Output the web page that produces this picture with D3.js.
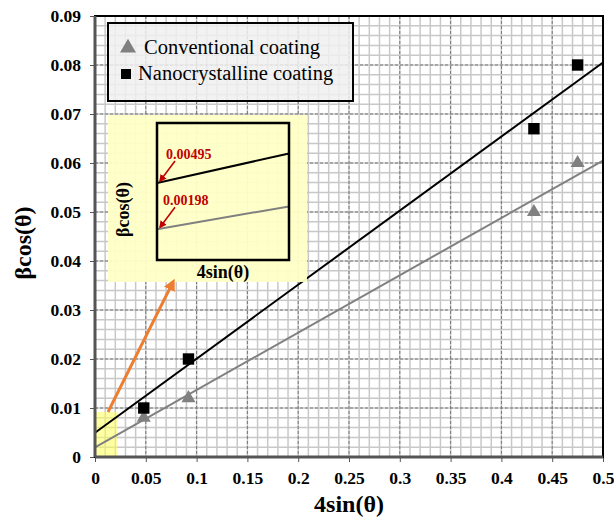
<!DOCTYPE html>
<html>
<head>
<meta charset="utf-8">
<script src="https://cdn.jsdelivr.net/npm/d3@7"></script>
<style>
  html, body { margin: 0; padding: 0; background: #fff; }
  svg { display: block; font-family: "Liberation Serif", "Times New Roman", serif; }
</style>
</head>
<body>
<svg id="chart" width="614" height="517"></svg>
<script>
// data
const xTicks = [0, 0.05, 0.1, 0.15, 0.2, 0.25, 0.3, 0.35, 0.4, 0.45, 0.5];
const yTicks = [0, 0.01, 0.02, 0.03, 0.04, 0.05, 0.06, 0.07, 0.08, 0.09];
const series = ['Conventional coating', 'Nanocrystalline coating'];
const xConv = [0.048, 0.092, 0.432, 0.475];
const yConv = [0.008, 0.012, 0.050, 0.060];
const xNano = [0.048, 0.092, 0.432, 0.475];
const yNano = [0.010, 0.020, 0.067, 0.080];
// fitted lines, y at x=0 and at x=0.5
const fitConv = [0.00198, 0.0605];
const fitNano = [0.00495, 0.0805];
const interceptLabels = ['0.00495', '0.00198'];

const svg = d3.select('#chart');
const margin = {top: 16, right: 11, bottom: 60, left: 95};
const width = 614, height = 517;
const iw = width - margin.left - margin.right;
const ih = height - margin.top - margin.bottom;

const x = d3.scaleLinear().domain([0, 0.5]).range([0, iw]);
const y = d3.scaleLinear().domain([0, 0.09]).range([ih, 0]);

const chart = svg.append('g')
    .attr('transform', `translate(${margin.left}, ${margin.top})`);

// minor grid
const minorX = d3.range(0, 0.5001, 0.01);
const minorY = d3.range(0, 0.0901, 0.002);
chart.append('g').selectAll('line')
    .data(minorX)
    .join('line')
    .attr('x1', d => x(d)).attr('x2', d => x(d))
    .attr('y1', 0).attr('y2', ih)
    .attr('stroke', '#c8c8c8').attr('stroke-width', 1.5);
chart.append('g').selectAll('line')
    .data(minorY)
    .join('line')
    .attr('y1', d => y(d)).attr('y2', d => y(d))
    .attr('x1', 0).attr('x2', iw)
    .attr('stroke', '#c8c8c8').attr('stroke-width', 1.5);

// major grid (dashed)
chart.append('g').selectAll('line')
    .data(xTicks)
    .join('line')
    .attr('x1', d => x(d)).attr('x2', d => x(d))
    .attr('y1', 0).attr('y2', ih)
    .attr('stroke', '#777').attr('stroke-width', 1)
    .attr('stroke-dasharray', '3,2');
chart.append('g').selectAll('line')
    .data(yTicks)
    .join('line')
    .attr('y1', d => y(d)).attr('y2', d => y(d))
    .attr('x1', 0).attr('x2', iw)
    .attr('stroke', '#777').attr('stroke-width', 1)
    .attr('stroke-dasharray', '3,2');

// yellow highlight near origin
chart.append('rect')
    .attr('x', x(0)).attr('y', y(0.0092))
    .attr('width', x(0.022) - x(0)).attr('height', y(0) - y(0.0092))
    .attr('fill', 'rgba(255,255,90,0.55)');

// fit lines
const line = d3.line().x(d => x(d[0])).y(d => y(d[1]));
chart.append('path')
    .attr('d', line([[0, fitConv[0]], [0.5, fitConv[1]]]))
    .attr('stroke', '#808080').attr('stroke-width', 2).attr('fill', 'none');
chart.append('path')
    .attr('d', line([[0, fitNano[0]], [0.5, fitNano[1]]]))
    .attr('stroke', '#000').attr('stroke-width', 2).attr('fill', 'none');

// markers
const tri = d3.symbol().type(d3.symbolTriangle).size(85);
const sq = d3.symbol().type(d3.symbolSquare).size(130);
chart.append('g').selectAll('path')
    .data(d3.zip(xConv, yConv))
    .join('path')
    .attr('d', tri)
    .attr('transform', d => `translate(${x(d[0])}, ${y(d[1])})`)
    .attr('fill', '#808080');
chart.append('g').selectAll('path')
    .data(d3.zip(xNano, yNano))
    .join('path')
    .attr('d', sq)
    .attr('transform', d => `translate(${x(d[0])}, ${y(d[1])})`)
    .attr('fill', '#000');

// axes
const fmt = d => String(+d.toFixed(2));
const xaxis = chart.append('g')
    .attr('transform', `translate(0, ${ih})`)
    .call(d3.axisBottom(x).tickValues(xTicks).tickFormat(fmt).tickSize(5).tickSizeOuter(0));
const yaxis = chart.append('g')
    .call(d3.axisLeft(y).tickValues(yTicks).tickFormat(fmt).tickSize(5).tickSizeOuter(0));
[xaxis, yaxis].forEach(a => {
    a.select('.domain').remove();
    a.selectAll('.tick line').attr('stroke', '#555');
    a.selectAll('text')
        .attr('font-family', '"Liberation Serif", serif')
        .attr('font-size', 17.5)
        .attr('font-weight', 'bold')
        .attr('fill', '#000');
});
xaxis.selectAll('text').attr('dy', '0.71em').attr('y', 15);
yaxis.selectAll('text').attr('x', -14);

// plot frame
chart.append('rect')
    .attr('x', 0).attr('y', 0).attr('width', iw).attr('height', ih)
    .attr('fill', 'none').attr('stroke', '#000').attr('stroke-width', 2);
chart.append('line')
    .attr('x1', 0).attr('x2', 0).attr('y1', 0).attr('y2', ih)
    .attr('stroke', '#555').attr('stroke-width', 3);
chart.append('line')
    .attr('x1', 0).attr('x2', iw).attr('y1', ih).attr('y2', ih)
    .attr('stroke', '#555').attr('stroke-width', 3);

// legend
const lg = svg.append('g').attr('transform', 'translate(108, 23)');
lg.append('rect')
    .attr('width', 245).attr('height', 78)
    .attr('fill', 'rgba(240,240,240,0.85)')
    .attr('stroke', '#000').attr('stroke-width', 2);
lg.append('path').attr('d', d3.symbol().type(d3.symbolTriangle).size(110))
    .attr('transform', 'translate(20, 25)').attr('fill', '#808080');
lg.append('path').attr('d', d3.symbol().type(d3.symbolSquare).size(100))
    .attr('transform', 'translate(18, 51)').attr('fill', '#000');
lg.selectAll('text')
    .data(series)
    .join('text')
    .attr('x', (d, i) => i === 0 ? 36 : 30)
    .attr('y', (d, i) => 31 + i * 26)
    .attr('font-size', 20.5)
    .attr('fill', '#000')
    .text(d => d);

// arrow heads
svg.append('defs').append('marker')
    .attr('id', 'oarrow').attr('viewBox', '0 0 10 10')
    .attr('refX', 5).attr('refY', 5)
    .attr('markerWidth', 4).attr('markerHeight', 4)
    .attr('orient', 'auto')
    .append('path').attr('d', 'M0,0 L10,5 L0,10 z').attr('fill', '#ed7d31');
svg.select('defs').append('marker')
    .attr('id', 'rarrow').attr('viewBox', '0 0 10 10')
    .attr('refX', 8).attr('refY', 5)
    .attr('markerWidth', 5).attr('markerHeight', 5)
    .attr('orient', 'auto')
    .append('path').attr('d', 'M0,0 L10,5 L0,10 z').attr('fill', '#c00000');

// inset
const inset = svg.append('g');
inset.append('rect')
    .attr('x', 108).attr('y', 115).attr('width', 199).attr('height', 167)
    .attr('fill', '#ffffc6').attr('opacity', 0.95);
svg.append('line')
    .attr('x1', 108).attr('y1', 412).attr('x2', 172).attr('y2', 284)
    .attr('stroke', '#ed7d31').attr('stroke-width', 3)
    .attr('marker-end', 'url(#oarrow)');

const box = {x: 157, y: 123, w: 132, h: 137};
const ix = d3.scaleLinear().domain([0, 0.0125]).range([box.x, box.x + box.w]);
const iy = d3.scaleLinear().domain([0, 0.0088]).range([box.y + box.h, box.y]);
const slopeConv = (fitConv[1] - fitConv[0]) / 0.5;
const slopeNano = (fitNano[1] - fitNano[0]) / 0.5;
const iline = d3.line().x(d => ix(d[0])).y(d => iy(d[1]));
inset.append('path')
    .attr('d', iline([[0, fitNano[0]], [0.0125, fitNano[0] + slopeNano * 0.0125]]))
    .attr('stroke', '#000').attr('stroke-width', 2).attr('fill', 'none');
inset.append('path')
    .attr('d', iline([[0, fitConv[0]], [0.0125, fitConv[0] + slopeConv * 0.0125]]))
    .attr('stroke', '#808080').attr('stroke-width', 2).attr('fill', 'none');
inset.append('rect')
    .attr('x', box.x).attr('y', box.y).attr('width', box.w).attr('height', box.h)
    .attr('fill', 'none').attr('stroke', '#000').attr('stroke-width', 2.5);

[fitNano[0], fitConv[0]].forEach((v, i) => {
    const py = iy(v);
    inset.append('line')
        .attr('x1', box.x + 18).attr('y1', py - 22)
        .attr('x2', box.x + 3).attr('y2', py - 2)
        .attr('stroke', '#c00000').attr('stroke-width', 1.5)
        .attr('marker-end', 'url(#rarrow)');
    inset.append('text')
        .attr('x', box.x + (i === 0 ? 9 : 6)).attr('y', py - 24)
        .attr('font-size', 14).attr('font-weight', 'bold')
        .attr('fill', '#c00000')
        .text(interceptLabels[i]);
});
inset.append('text')
    .attr('transform', `translate(129, ${box.y + box.h / 2 + 18}) rotate(-90)`)
    .attr('text-anchor', 'middle')
    .attr('font-size', 18).attr('font-weight', 'bold')
    .text('βcos(θ)');
inset.append('text')
    .attr('x', 223).attr('y', 278)
    .attr('text-anchor', 'middle')
    .attr('font-size', 18).attr('font-weight', 'bold')
    .text('4sin(θ)');

// axis titles
svg.append('text')
    .attr('x', margin.left + iw / 2).attr('y', 512)
    .attr('text-anchor', 'middle')
    .attr('font-size', 24).attr('font-weight', 'bold')
    .text('4sin(θ)');
svg.append('text')
    .attr('transform', `translate(31, 243) rotate(-90)`)
    .attr('text-anchor', 'middle')
    .attr('font-size', 24).attr('font-weight', 'bold')
    .text('βcos(θ)');
</script>
</body>
</html>
